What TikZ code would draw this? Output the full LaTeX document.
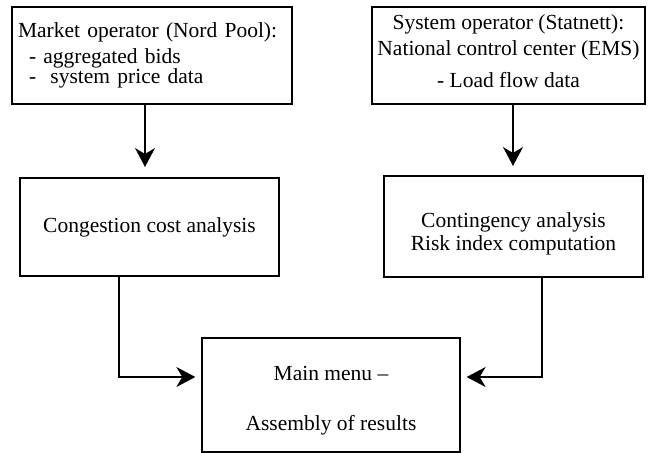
\documentclass[tikz,border=0pt]{standalone}
\usepackage{fontspec}
\setmainfont{Liberation Serif}
\usepackage{tikz}
\usetikzlibrary{arrows.meta}

% line strut: height 15pt, depth 5pt
\newcommand{\ls}{\rule[-5pt]{0pt}{20pt}}

\begin{document}
\begin{tikzpicture}[
  x=1pt, y=-1pt,
  box/.style={draw, line width=1.3pt, inner sep=0pt, font=\fontsize{21.5}{22}\selectfont},
  link/.style={-{Stealth[length=19pt, width=20pt, inset=6pt]}, line width=1.6pt},
]
\useasboundingbox (0,0) rectangle (649,453);
% data sources
\node[box, minimum width=280pt, minimum height=97pt, text width=268pt, align=left] (market) at (152,55.5)
  {\ls Market operator (Nord Pool):\\[4pt]
   \ls\hspace*{11pt}- aggregated bids\\[-2pt]
   \ls\hspace*{11pt}-\ \ system price data};
\node[box, minimum width=273pt, minimum height=97pt, align=center] (system) at (508.5,55.5)
  {\ls System operator (Statnett):\\[4pt]
   \ls National control center (EMS)\\[10pt]
   \rule[-10pt]{0pt}{25pt}- Load flow data};
% analyses
\node[box, minimum width=259pt, minimum height=98pt] (congestion) at (149.5,227)
  {\ls Congestion cost analysis};
\node[box, minimum width=259pt, minimum height=101pt, align=center] (contingency) at (513.5,226.5)
  {\rule[-5pt]{0pt}{34pt}Contingency analysis\\[1pt]
   \ls Risk index computation};
% results
\node[box, minimum width=258pt, minimum height=114pt, align=center] (menu) at (331,395)
  {\rule[-5pt]{0pt}{30pt}Main menu --\\[28pt]
   \ls Assembly of results};

\coordinate (tipL) at (145,167);
\coordinate (tipR) at (513,166);
\draw[link] (market.south -| tipL) -- (tipL);
\draw[link] (system.south -| tipR) -- (tipR);
\draw[link, shorten >=6pt] ([xshift=-30.5pt]congestion.south) |- ([yshift=18pt]menu.west);
\draw[link, shorten >=6pt] ([xshift=28.5pt]contingency.south) |- ([yshift=18pt]menu.east);
\end{tikzpicture}
\end{document}
